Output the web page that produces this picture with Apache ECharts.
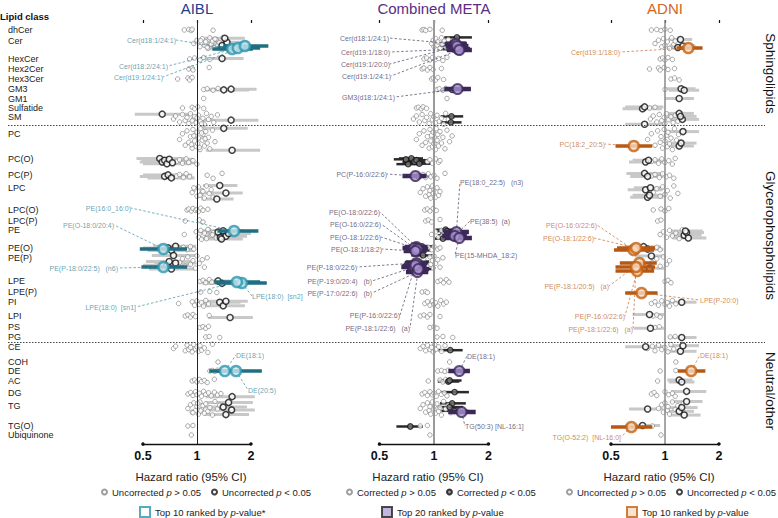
<!DOCTYPE html>
<html><head><meta charset="utf-8">
<script src="https://cdn.jsdelivr.net/npm/echarts@6/dist/echarts.min.js"></script>
<style>html,body{margin:0;padding:0;background:#fff}#c{width:778px;height:518px}</style>
</head><body><div id="c"></div>
<script>
// ---------------- DATA ----------------
const classNames = ['dhCer','Cer','HexCer','Hex2Cer','Hex3Cer','GM3','GM1','Sulfatide','SM','PC','PC(O)','PC(P)','LPC','LPC(O)','LPC(P)','PE','PE(O)','PE(P)','LPE','LPE(P)','PI','LPI','PS','PG','CE','COH','DE','AC','DG','TG','TG(O)','Ubiquinone'];
// position of each class on the (inverted) vertical axis
const classPos = [10,21,39,49,59,69,78.5,87.5,97,114,139,155,168,190,201,210,228,238,261,272,282,296,307,317,327,342,351,361,373,386,406,415];
const groupNames = ['Sphingolipids','Glycerophospholipids','Neutral/other'];
const groupFirst = [0, 9, 24];
const tickValues = [0.5, 1, 2];

// AIBL: hazard ratios of non-significant species, per class
const aiblNS = [
 [0.85,0.9,0.93,0.94,1.23],
 [0.96,1.0,1.04,1.07,1.1,1.12,1.15,1.18,1.2,1.22,1.25,1.28,1.3,1.33,1.36,1.4,1.45,1.05,1.14,1.26],
 [0.91,0.97,1.04,1.09,1.18],
 [0.9,0.94,0.95,1.17],
 [0.78,0.89,0.91,0.94],
 [1.09,1.14,1.23,1.31],
 [1.09],
 [0.83,0.94,0.97,1.01,1.09],
 [0.74,0.76,0.8,0.83,0.86,0.88,0.9,0.92,0.95,0.97,0.99,1.02,1.05,1.08,1.1,1.13,1.16,1.2,1.24,1.3,0.94,1.0,1.06],
 [0.8,0.83,0.86,0.88,0.9,0.92,0.94,0.95,0.97,0.98,0.99,1.0,1.01,1.02,1.04,1.05,1.07,1.08,1.1,1.12,1.14,1.16,1.18,1.22,1.26,0.96,1.03,1.06,0.93,1.11],
 [0.77,0.8,0.83,0.87,0.9,0.95,1.0],
 [0.77,0.8,0.84,0.87,0.91,1.14,1.23,1.38],
 [0.94,0.97,1.0,1.02,1.05,1.07,1.1,1.13,1.17,1.2,1.23,0.96,1.04,1.08],
 [0.88,0.9,0.93,0.95,0.98,1.0,1.02,1.05,1.08,1.15],
 [0.86,1.03,1.08],
 [0.85,0.99,1.02,1.05,1.08,1.1,1.13,1.16,1.2,1.24,1.28,1.32,1.36,1.4,1.06,1.15,1.22],
 [0.8,0.84,0.88,0.92,0.96],
 [0.8,0.83,0.86,0.89,0.92,0.95,0.98,1.0,1.03,1.07,1.1,1.14],
 [1.04,1.08,1.12,1.17,1.21],
 [1.05,1.18,1.29],
 [0.79,0.94,0.97,1.0,1.03,1.06,1.09,1.12,1.16],
 [0.86,0.89,0.92,0.95,0.98,1.17],
 [1.04,1.08,1.12,1.16],
 [1.12,1.17,1.34],
 [0.74,0.76,0.86,0.88,0.9,0.92,0.94,0.96,0.98,1.0,1.02,1.04,1.06,1.1,1.15,1.22],
 [1.31],
 [1.18,1.22,1.26,1.3],
 [0.94,0.97,1.0,1.03,1.06,1.1,1.14,1.25],
 [0.89,0.92,0.95,0.98,1.0,1.03,1.06,1.09,1.12,1.16,1.2,1.25,1.3,1.36],
 [0.89,0.92,0.94,0.96,0.98,1.0,1.02,1.04,1.06,1.08,1.1,1.12,1.15,1.18,1.22,1.26,1.3,1.34,0.95,1.01,1.05],
 [0.89,0.95],
 [0.93]
];
// AIBL significant: [class, HR, lower, upper]
const aiblSig = [
 [1,1.38,1.08,1.76],[1,1.47,1.13,1.9],[1,1.52,1.16,2.0],[1,1.43,1.1,1.85],
 [2,1.38,1.05,1.82],[5,1.41,1.1,1.95],[5,1.55,1.15,2.15],
 [8,0.64,0.45,0.95],[8,1.55,1.08,2.2],[9,1.57,1.12,2.25],[9,1.41,1.05,1.92],
 [10,0.62,0.46,0.85],[10,0.64,0.48,0.87],[10,0.66,0.49,0.9],[10,0.68,0.5,0.93],[10,0.7,0.52,0.95],[10,0.73,0.55,0.97],
 [11,0.66,0.48,0.91],[11,0.69,0.5,0.94],[11,0.72,0.53,0.97],
 [12,1.29,1.06,1.6],[12,1.34,1.08,1.68],[12,1.45,1.1,1.8],
 [15,1.31,1.03,1.68],[15,1.35,1.05,1.75],[15,1.4,1.08,1.82],[15,1.45,1.1,1.9],[15,1.5,1.14,2.0],[15,1.37,1.05,1.8],
 [16,0.69,0.5,0.95],[16,0.72,0.53,0.97],[16,0.76,0.57,0.99],
 [17,0.68,0.5,0.93],[17,0.7,0.52,0.95],[17,0.72,0.54,0.97],[17,0.74,0.56,0.98],[17,0.76,0.58,0.99],
 [18,1.31,1.04,1.65],[18,1.38,1.07,1.75],
 [20,1.34,1.05,1.75],[20,1.4,1.08,1.85],[20,1.45,1.1,1.92],
 [21,1.53,1.15,2.05],[28,1.57,1.12,2.1],
 [29,1.4,1.08,1.9],[29,1.45,1.1,1.95],[29,1.5,1.12,2.05],[29,1.56,1.15,2.1]
];
const aiblTopNames = ['Cer(d18:1/24:1)','Cer(d18:2/24:1)','Cer(d19:1/24:1)','PE(16:0_16:0)','PE(O-18:0/20:4)','PE(P-18:0/22:5)   (n6)','LPE(18:0)  [sn2]','LPE(18:0)  [sn1]','DE(18:1)','DE(20:5)'];
const aiblTop = [[1,1.57,1.22,2.05],[1,1.69,1.3,2.25],[1,1.85,1.4,2.5],[15,1.61,1.3,2.2],[16,0.65,0.48,0.88],[17,0.65,0.49,0.88],[18,1.78,1.3,2.45],[18,1.67,1.25,2.25],[26,1.43,1.17,1.76],[26,1.65,1.3,2.3]];

// Combined META
const metaNS = [
 [0.86,0.88,0.9,0.95,1.11],
 [0.97,0.99,1.0,1.02,1.04,1.05,1.08,1.1,1.11,1.14,1.17,1.2],
 [0.88,0.91,0.95,0.98,1.02,1.06,1.12,1.18],
 [0.86,0.88,0.92,0.95,0.99,1.1],
 [0.97,0.99,1.02,1.05,1.13],
 [1.04,1.07,1.12,1.16],
 [1.18],
 [0.8,0.82,0.85,0.87,0.91],
 [0.77,0.8,0.83,0.86,0.89,0.91,0.94,0.96,0.98,1.0,1.02,1.04,1.07,1.1,1.13,1.16,1.2],
 [0.8,0.83,0.86,0.88,0.9,0.92,0.94,0.95,0.96,0.97,0.98,0.99,1.0,1.01,1.02,1.03,1.04,1.05,1.06,1.08,1.1,1.12,1.15,1.18,1.22,1.26],
 [0.92,0.95,0.98,1.02,1.06,1.08],
 [0.84,0.87,0.9,0.93,0.96,1.0,1.04,1.15],
 [0.84,0.87,0.9,0.92,0.94,0.95,0.96,0.98,0.99,1.0,1.02,1.04,1.06,1.08],
 [0.89,0.92,0.95,0.99,1.03],
 [0.9,0.93,0.97,1.08],
 [0.97,1.02,1.06,1.1,1.11,1.14],
 [0.89,0.93,0.97,1.0,1.05,1.08],
 [0.84,0.88,0.92,0.95,0.96,0.98,0.99,1.0,1.02,1.05,1.08,1.12],
 [1.05,1.09,1.13,1.17,1.21],
 [0.86,0.9,0.92],
 [0.89,0.92,0.95,0.98,1.0,1.02,1.05,1.09,1.13,1.17],
 [0.84,0.88,0.92,0.95,1.08],
 [0.95,1.0,1.04],
 [1.04,1.12,1.27],
 [0.84,0.87,0.9,0.92,0.95,0.97,0.99,1.01,1.03,1.06,1.1,1.15],
 [1.22],
 [1.05,1.1,1.15,1.2],
 [0.93,1.08,1.12,1.16],
 [0.86,0.89,0.92,0.95,0.98,1.0,1.03,1.06,1.1,1.14,1.18],
 [0.84,0.87,0.9,0.92,0.94,0.95,0.96,0.98,1.0,1.01,1.02,1.04,1.06,1.08,1.1,1.13,1.16,1.2,1.24],
 [0.84,0.92],
 [0.95]
];
const metaSig = [
 [1,1.24,1.08,1.45],[1,1.27,1.1,1.5],[1,1.3,1.12,1.58],[1,1.34,1.14,1.62],
 [5,1.26,1.08,1.48],[8,1.25,1.09,1.45],[8,1.24,1.08,1.42],
 [10,0.72,0.62,0.84],[10,0.75,0.64,0.87],[10,0.78,0.67,0.9],[10,0.8,0.69,0.93],[10,0.83,0.72,0.96],[10,0.7,0.6,0.82],
 [11,0.82,0.7,0.95],
 [15,1.12,1.0,1.28],[15,1.16,1.02,1.32],[15,1.2,1.05,1.38],[15,1.24,1.08,1.42],[15,1.28,1.1,1.48],[15,1.18,1.03,1.35],
 [16,0.83,0.72,0.96],[16,0.86,0.74,0.99],
 [17,0.78,0.67,0.91],[17,0.81,0.7,0.94],[17,0.84,0.72,0.97],[17,0.87,0.75,0.99],[17,0.8,0.69,0.93],
 [24,1.23,1.06,1.44],[27,1.2,1.05,1.38],[27,1.22,1.06,1.42],[28,1.3,1.1,1.56],
 [29,1.26,1.08,1.5],[29,1.3,1.1,1.55],[29,1.22,1.05,1.45],[30,0.74,0.62,0.87]
];
const metaTopNames = ['Cer(d18:1/24:1)','Cer(d19:1/18:0)','Cer(d19:1/20:0)','Cer(d19:1/24:1)','GM3(d18:1/24:1)','PC(P-16:0/22:6)','PE(18:0_22:5)   (n3)','PE(38:5)  (a)','PE(15-MHDA_18:2)','PE(O-18:0/22:6)','PE(O-16:0/22:6)','PE(O-18:1/22:6)','PE(O-18:1/18:2)','PE(P-18:0/22:6)','PE(P-19:0/20:4)   (b)','PE(P-17:0/22:6)   (b)','PE(P-16:0/22:6)','PE(P-18:1/22:6)   (a)','DE(18:1)','TG(50:3) [NL-16:1]'];
const metaTop = [[1,1.32,1.15,1.52],[1,1.36,1.17,1.58],[1,1.34,1.16,1.55],[1,1.38,1.18,1.62],[5,1.35,1.14,1.6],[11,0.79,0.67,0.91],[15,1.33,1.13,1.56],[15,1.3,1.11,1.52],[15,1.38,1.16,1.62],[16,0.8,0.69,0.92],[16,0.78,0.67,0.9],[16,0.81,0.7,0.93],[16,0.79,0.68,0.91],[17,0.8,0.69,0.92],[17,0.78,0.66,0.9],[17,0.81,0.7,0.93],[17,0.79,0.68,0.91],[17,0.82,0.71,0.94],[26,1.38,1.2,1.58],[29,1.42,1.2,1.7]];

// ADNI
const adniNS = [
 [0.84,0.9,0.95,1.0,1.07],
 [0.88,0.92,0.96,0.98,1.0,1.03,1.06,1.09,1.12,1.14],
 [0.94,0.97,1.0,1.04,1.1],
 [0.82,0.92,0.94,0.99,1.04,1.13],
 [1.08,1.13,1.2],
 [1.0],
 [],
 [0.82,0.88],
 [0.83,0.86,0.9,0.93,0.96,0.99,1.0,1.02,1.05,1.08,1.11,1.14,1.18,1.22],
 [0.8,0.84,0.88,0.91,0.94,0.95,0.97,0.99,1.0,1.02,1.03,1.04,1.06,1.08,1.1,1.13,1.16,1.19],
 [0.84,0.88,0.92,0.96,1.0,1.05,1.1,1.14],
 [0.84,0.88,0.93,0.97,1.02,1.06,1.12],
 [0.86,0.9,0.94,0.97,1.0,1.03,1.07,1.12,1.18],
 [0.86,0.95,1.0,1.05],
 [0.91,0.95],
 [0.94,0.98,1.02,1.06,1.1,1.15,1.2,1.25],
 [0.85,0.9,0.94],
 [0.85,0.9,0.94,0.98,1.02,1.06],
 [1.0,1.04,1.08],
 [],
 [0.84,0.88,0.92,0.96,1.0,1.03,1.06,1.1,1.15],
 [0.86,0.9,0.94],
 [0.88,0.93],
 [1.07,1.14],
 [0.8,0.85,0.88,0.92,0.96,1.0,1.04,1.08,1.12],
 [1.15],
 [0.94,1.15],
 [0.91],
 [0.84,0.87,0.9,1.0,1.05,1.1,1.14],
 [0.92,0.96,0.98,1.0,1.03,1.04,1.06,1.1,1.14,1.18,1.22,1.26],
 [0.85],
 [0.95]
];
const adniSig = [
 [1,1.18,1.02,1.38],[1,1.22,1.04,1.42],[1,1.26,1.06,1.48],
 [5,1.23,1.02,1.48],[5,1.28,1.05,1.55],[6,1.2,1.0,1.45],
 [7,0.75,0.58,0.96],[7,0.77,0.6,0.98],
 [8,0.77,0.6,0.98],[8,1.2,1.02,1.45],[8,1.25,1.04,1.55],[8,1.22,1.03,1.5],
 [9,1.2,1.02,1.45],[9,1.26,1.05,1.55],[9,1.23,1.03,1.5],
 [10,0.78,0.63,0.97],[10,0.81,0.66,0.98],[11,0.77,0.61,0.97],[11,0.8,0.64,0.98],
 [12,0.78,0.62,0.97],[12,0.8,0.64,0.98],[12,0.83,0.67,0.99],[12,0.82,0.66,0.99],
 [15,1.28,1.06,1.6],[15,1.32,1.08,1.65],[15,1.35,1.1,1.7],[15,1.3,1.07,1.62],
 [16,0.76,0.6,0.95],[16,0.8,0.65,0.98],[17,0.82,0.66,0.99],[17,0.84,0.68,0.99],
 [20,1.24,1.04,1.5],[21,0.82,0.66,0.99],[22,0.83,0.67,0.99],[23,1.24,1.04,1.5],
 [24,0.78,0.6,0.98],[24,1.22,1.03,1.5],[24,1.26,1.05,1.55],
 [27,1.2,1.03,1.42],[27,1.24,1.05,1.46],[28,1.32,1.08,1.7],
 [29,1.2,1.02,1.45],[29,1.24,1.04,1.52],[29,1.28,1.06,1.58],[29,1.32,1.08,1.62],[29,0.8,0.63,0.98],
 [30,0.75,0.6,0.94]
];
const adniTopNames = ['Cer(d19:1/18:0)','PC(18:2_20:5)','PE(O-16:0/22:6)','PE(O-18:1/22:6)','PE(P-18:1/20:5)   (a)','PE(P-16:0/22:6)','PE(P-18:1/22:6)   (a)','LPE(P-20:0)','DE(18:1)','TG(O-52:2)  [NL-16:0]'];
const adniTop = [[1,1.35,1.16,1.62],[9,0.67,0.53,0.85],[16,0.67,0.52,0.87],[16,0.69,0.54,0.88],[17,0.72,0.56,0.9],[17,0.7,0.53,0.87],[17,0.69,0.53,0.88],[19,0.74,0.6,0.91],[26,1.4,1.18,1.68],[30,0.65,0.5,0.85]];

// ---------------- LAYOUT (positions / styles) ----------------
const bandLo = [-1,-4,-2,-2,-2,-1,-1,-1,-4,-6,-1,-2,-3,-2,-2,-1,-2,-3,-2,-1,-2,-2,-1,-1,-3,0,-1,-2,-2,-5,-1,0];
const bandHi = [1,9,2,2,2,2,1,2,8,17,6,4,12,2,2,10,3,12,3,1,5,2,2,1,6,0,1,2,4,10,1,0];
// [vertical offset within class, label x, label y, align]
const aiblTopLayout = [[8,176,40,'right'],[7,168,66,'right'],[5,163,77,'right'],[1,131,208,'right'],[1,114,225,'right'],[9,118,268,'right'],[2,252,296,'left'],[1,136,307,'right'],[0,236,355,'left'],[0,248,390,'left']];
const metaTopLayout = [[3,389,38,'right'],[8,390,52,'right'],[5,390,64,'right'],[9,391,76,'right'],[0,395,97,'right'],[1,387,174,'right'],[2,460,182,'left'],[6,470,221,'left'],[8,455,255,'left'],[-1,380,212,'right'],[0,381,224,'right'],[1,381,237,'right'],[3,382,249,'right'],[5,357,267,'right'],[9,372,281,'right'],[14,372,293,'right'],[7,400,315,'right'],[11,410,328,'right'],[0,467,356,'left'],[6,465,426,'left']];
const adniTopLayout = [[7,620,52,'right'],[12,605,144,'right'],[2,597,225,'right'],[0,594,238,'right'],[5,609,286,'right'],[13,625,316,'right'],[9,633,329,'right'],[1,700,300,'left'],[0,700,355,'left'],[1,621,437,'right']];

const FONT = 'Liberation Sans, Arial, Helvetica, sans-serif';
const panels = [
 {title:'AIBL', titleColor:'#23408e', ns:aiblNS, sig:aiblSig, top:aiblTop, topNames:aiblTopNames, layout:aiblTopLayout,
  names:['Uncorrected p > 0.05','Uncorrected p < 0.05','Top 10 ranked by p-value*'],
  grid:{left:110.6,width:160.8}, ref:{color:'#222',width:1}, sigBar:{color:'#c8c8c8',width:3},
  sigPt:{color:'#fff',borderColor:'#111',borderWidth:1.5,size:6}, topBar:{color:'#1f6e82',width:3.5},
  topPt:{color:'#cde9f0',borderColor:'#2b97b2',borderWidth:2.5}, labelColor:'#3b8c9e',
  legIcon:{color:'#fff',borderColor:'#2b97b2',borderWidth:2}, leg1:101, leg2:139},
 {title:'Combined META', titleColor:'#5a2d82', ns:metaNS, sig:metaSig, top:metaTop, topNames:metaTopNames, layout:metaTopLayout,
  names:['Corrected p > 0.05','Corrected p < 0.05','Top 20 ranked by p-value'],
  grid:{left:346.8,width:162.3}, ref:{color:'#9a9a9a',width:2}, sigBar:{color:'#2a2a2a',width:2.5},
  sigPt:{color:'#777',borderColor:'#111',borderWidth:1.2,size:5.5}, topBar:{color:'#3b2858',width:4.5},
  topPt:{color:'#a994cf',borderColor:'#3b2858',borderWidth:2}, labelColor:'#4d4060',
  legIcon:{color:'#b3a3d6',borderColor:'#222',borderWidth:2}, leg1:346, leg2:381},
 {title:'ADNI', titleColor:'#d4661e', ns:adniNS, sig:adniSig, top:adniTop, topNames:adniTopNames, layout:adniTopLayout,
  names:['Uncorrected p > 0.05','Uncorrected p < 0.05','Top 10 ranked by p-value'],
  grid:{left:578.6,width:160.8}, ref:{color:'#8a8a8a',width:1.5}, sigBar:{color:'#c8c8c8',width:3},
  sigPt:{color:'#fff',borderColor:'#111',borderWidth:1.5,size:6}, topBar:{color:'#b75812',width:3.5},
  topPt:{color:'#f7dcc4',borderColor:'#c4600f',borderWidth:2.5}, labelColor:'#c46a2c',
  legIcon:{color:'#f7dcc4',borderColor:'#c4600f',borderWidth:2}, leg1:566, leg2:626}
];

function vdc(n){ let v=0, d=0.5; while(n){ if(n&1) v+=d; n>>=1; d/=2; } return v; }

const grids = [], xAxes = [], yAxes = [], series = [], legends = [];
const Y_MAX = 424;

function barRender(color, width){
  return function(params, api){
    const p1 = api.coord([api.value(0), api.value(2)]);
    const p2 = api.coord([api.value(1), api.value(2)]);
    return {type:'line', shape:{x1:p1[0],y1:p1[1],x2:p2[0],y2:p2[1]}, style:{stroke:color, lineWidth:width}};
  };
}
const legendFmt = n => n.replace(' p', ' {i|p}');

panels.forEach((P, i) => {
  grids.push({left:P.grid.left, width:P.grid.width, top:20, height:Y_MAX});
  xAxes.push({type:'log', logBase:2, min:0.33, max:2.6, gridIndex:i,
    axisLine:{show:false}, splitLine:{show:false},
    axisTick:{show:true, length:3, customValues:tickValues, lineStyle:{color:'#111',width:1.2}},
    axisLabel:{customValues:tickValues, formatter:v=>String(v), fontWeight:'bold', fontSize:12.5, color:'#111', margin:5, fontFamily:FONT},
    name:'Hazard ratio (95% CI)', nameLocation:'middle', nameGap:27,
    nameTextStyle:{fontSize:11.5, color:'#222', fontFamily:FONT}});
  yAxes.push({type:'value', inverse:true, min:0, max:Y_MAX, gridIndex:i, show:false});

  const cnt = classNames.map(() => 0);
  const jit = ci => { cnt[ci] += 1; return classPos[ci] + bandLo[ci] + (bandHi[ci]-bandLo[ci]) * vdc(cnt[ci]); };
  const nsData = [];
  P.ns.forEach((arr, ci) => arr.forEach(hr => nsData.push([hr, jit(ci)])));
  const sigPts = [], sigBars = [];
  P.sig.forEach(([ci,hr,lo,hi]) => { const y = jit(ci); sigPts.push([hr,y]); sigBars.push([lo,hi,y]); });
  const topPts = [], topBars = [];
  P.top.forEach(([ci,hr,lo,hi], k) => {
    const y = classPos[ci] + P.layout[k][0];
    topPts.push({name:P.topNames[k], value:[hr,y]}); topBars.push([lo,hi,y]);
  });

  series.push({type:'custom', xAxisIndex:i, yAxisIndex:i, z:1, silent:true, data:sigBars,
    encode:{x:[0,1], y:2}, renderItem:barRender(P.sigBar.color, P.sigBar.width)});
  series.push({type:'scatter', name:P.names[0], xAxisIndex:i, yAxisIndex:i, z:2, data:nsData,
    symbol:'circle', symbolSize:4.5, itemStyle:{color:'#fff', borderColor:'#858585', borderWidth:0.9},
    markLine:{silent:true, symbol:'none', label:{show:false}, animation:false,
      data:[{xAxis:1, lineStyle:{color:P.ref.color, width:P.ref.width, type:'solid'}},
            [{coord:[0.5,Y_MAX], symbol:'circle', symbolSize:3.5, lineStyle:{color:'#111',width:1.3,type:'solid'}},
             {coord:[2,Y_MAX], symbol:'circle', symbolSize:3.5}]]}});
  series.push({type:'scatter', name:P.names[1], xAxisIndex:i, yAxisIndex:i, z:3, data:sigPts,
    symbol:'circle', symbolSize:P.sigPt.size,
    itemStyle:{color:P.sigPt.color, borderColor:P.sigPt.borderColor, borderWidth:P.sigPt.borderWidth}});
  series.push({type:'custom', xAxisIndex:i, yAxisIndex:i, z:4, silent:true, data:topBars,
    encode:{x:[0,1], y:2}, renderItem:barRender(P.topBar.color, P.topBar.width)});
  series.push({type:'scatter', name:P.names[2], xAxisIndex:i, yAxisIndex:i, z:5, data:topPts,
    symbol:'circle', symbolSize:10,
    itemStyle:{color:P.topPt.color, borderColor:P.topPt.borderColor, borderWidth:P.topPt.borderWidth},
    label:{show:true, formatter:'{b}', fontSize:7, color:P.labelColor, fontFamily:FONT},
    labelLayout:(params) => { const L = P.layout[params.dataIndex]; return {x:L[1], y:L[2], align:L[3], verticalAlign:'middle'}; },
    labelLine:{show:true, lineStyle:{color:P.labelColor, width:0.7, type:[2.5,2]}}});

  const legText = {fontSize:9.5, color:'#222', fontFamily:FONT, rich:{i:{fontStyle:'italic', fontSize:9.5, color:'#222', fontFamily:FONT}}};
  legends.push({left:P.leg1, top:487, width:320, padding:0, itemGap:10, itemWidth:5, itemHeight:5, selectedMode:false,
    data:[P.names[0], P.names[1]], formatter:legendFmt, textStyle:legText});
  legends.push({left:P.leg2, top:506, width:200, padding:0, itemWidth:10, itemHeight:10, selectedMode:false,
    data:[{name:P.names[2], icon:'rect', itemStyle:P.legIcon}], formatter:legendFmt, textStyle:legText});
});

// background grid for class labels and group separators
grids.push({left:8, right:13, top:20, height:Y_MAX});
xAxes.push({type:'value', gridIndex:3, min:0, max:1, show:false});
yAxes.push({type:'value', gridIndex:3, inverse:true, min:0, max:Y_MAX,
  axisLine:{show:false}, axisTick:{show:false}, splitLine:{show:false},
  axisLabel:{inside:true, margin:0, customValues:classPos, fontSize:9, lineHeight:8, color:'#222', fontFamily:FONT,
    formatter:v => classNames[classPos.indexOf(v)] || ''}});
const groupBreaks = groupFirst.slice(1).map(f => (classPos[f-1] + classPos[f]) / 2);
series.push({type:'line', xAxisIndex:3, yAxisIndex:3, data:[], silent:true,
  markLine:{silent:true, symbol:'none', label:{show:false}, animation:false,
    lineStyle:{color:'#444', width:1, type:[1.5,1.5]},
    data:groupBreaks.map(b => ({yAxis:b}))}});

const chart = echarts.init(document.getElementById('c'), null, {renderer:'svg'});
chart.setOption({
  animation:false, textStyle:{fontFamily:FONT},
  grid:grids, xAxis:xAxes, yAxis:yAxes, series:series, legend:legends
});

// titles and group labels positioned from the chart's scales
const graphics = [];
graphics.push({type:'text', left:0, top:11, style:{text:'Lipid class', fontSize:9.5, fontWeight:'bold', fill:'#111', fontFamily:FONT}});
panels.forEach((P,i) => {
  const x = chart.convertToPixel({xAxisIndex:i}, 1);
  graphics.push({type:'text', x:x, y:8, style:{text:P.title, fontSize:15, fill:P.titleColor, align:'center', verticalAlign:'middle', fontFamily:FONT}});
});
groupNames.forEach((g,k) => {
  const first = groupFirst[k];
  const last = k < groupFirst.length-1 ? groupFirst[k+1]-1 : classNames.length-1;
  const y = chart.convertToPixel({yAxisIndex:3}, (classPos[first]+classPos[last])/2);
  graphics.push({type:'text', x:770, y:y, rotation:-Math.PI/2, style:{text:g, fontSize:13.5, fill:'#111', align:'center', verticalAlign:'middle', fontFamily:FONT}});
});
chart.setOption({graphic:graphics});
</script></body></html>
